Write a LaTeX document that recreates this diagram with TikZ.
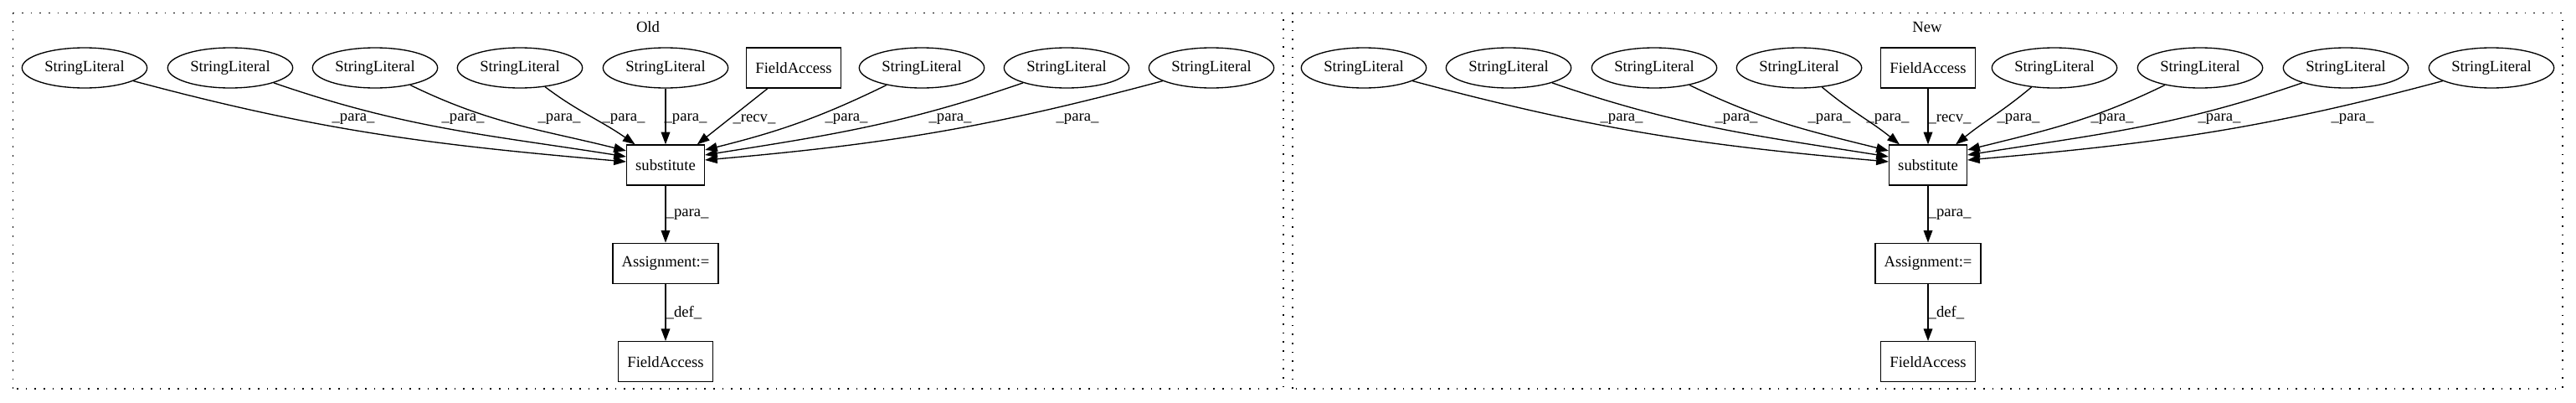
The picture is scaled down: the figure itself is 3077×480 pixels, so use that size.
\documentclass[tikz,border=0pt]{standalone}
\usepackage{fontspec}
\setmainfont{Liberation Serif}
\usetikzlibrary{shapes.geometric}
\usetikzlibrary{arrows.meta, positioning}

\begin{document}
\begin{tikzpicture}[x=0.75pt, y=0.75pt,
    every node/.style={font=\fontsize{14}{16}\selectfont},
    lit/.style={draw, ellipse, line width=1pt, inner sep=0pt, minimum width=112pt, minimum height=36pt},
    box/.style={draw, rectangle, line width=1pt, inner xsep=8pt, minimum height=36pt},
    lbl/.style={inner sep=0pt},
    flow/.style={line width=1pt, -{Triangle[length=11pt, width=8pt]}},
    cluster/.style={draw, line width=1pt, dash pattern=on 1.2pt off 6.8pt}]
    \useasboundingbox (0,0) rectangle (3077,480);
    \draw[cluster] (15.7,16) rectangle (1533,464.3);
    \draw[cluster] (1544,16) rectangle (3061,464.3);
    \node (old) at (774,448) {Old};
    \node (new) at (2302,448) {New};

    % Old
    \foreach \n/\x in {a1/101, a2/275, a3/448, a4/621, a5/795, a6/1101, a7/1274, a8/1447}
        \node[lit] (\n) at (\x,399) {StringLiteral};
    \node[box] (afa) at (948,399) {FieldAccess};
    \node[box] (asub) at (795,283) {substitute};
    \node[box, below=51pt of asub] (aasg) {Assignment:=};
    \node[box, below=51pt of aasg] (aout) {FieldAccess};

    \draw[flow] (a1) to[out=-15, in=175] ([yshift=3pt]asub.west);
    \draw[flow] (a2) to[out=-19, in=171] ([yshift=7.5pt]asub.west);
    \draw[flow] (a3) to[out=-26, in=166] ([yshift=12.75pt]asub.west);
    \draw[flow] (a4) to[out=-37, in=145] ([xshift=8pt]asub.north west);
    \draw[flow] (a5) -- (asub);
    \draw[flow] (afa) -- ([xshift=-7pt]asub.north east);
    \draw[flow] (a6) to[out=206, in=14] ([yshift=13.5pt]asub.east);
    \draw[flow] (a7) to[out=199, in=9] ([yshift=9pt]asub.east);
    \draw[flow] (a8) to[out=195, in=5] ([yshift=4.5pt]asub.east);
    \draw[flow] (asub) -- node[lbl, right] {\_para\_} (aasg);
    \draw[flow] (aasg) -- node[lbl, right] {\_def\_} (aout);
    \foreach \x [count=\i] in {422, 553, 668, 745, 819, 1011, 1135, 1287}
        \node[lbl] (pa\i) at (\x,338) {\_para\_};
    \node[lbl] (ra) at (901,338) {\_recv\_};

    % New
    \foreach \n/\x in {b1/1629, b2/1802, b3/1976, b4/2149, b5/2454, b6/2628, b7/2802, b8/2976}
        \node[lit] (\n) at (\x,399) {StringLiteral};
    \node[box] (bfa) at (2303,399) {FieldAccess};
    \node[box] (bsub) at (2303,283) {substitute};
    \node[box, below=51pt of bsub] (basg) {Assignment:=};
    \node[box, below=51pt of basg] (bout) {FieldAccess};

    \draw[flow] (b1) to[out=-15, in=175] ([yshift=3pt]bsub.west);
    \draw[flow] (b2) to[out=-19, in=171] ([yshift=7.5pt]bsub.west);
    \draw[flow] (b3) to[out=-26, in=166] ([yshift=12.75pt]bsub.west);
    \draw[flow] (b4) to[out=-40, in=141] ([xshift=9.75pt]bsub.north west);
    \draw[flow] (bfa) -- (bsub);
    \draw[flow] (b5) to[out=220, in=39] ([xshift=-10.5pt]bsub.north east);
    \draw[flow] (b6) to[out=206, in=14] ([yshift=13.5pt]bsub.east);
    \draw[flow] (b7) to[out=199, in=9] ([yshift=9pt]bsub.east);
    \draw[flow] (b8) to[out=195, in=5] ([yshift=4.5pt]bsub.east);
    \draw[flow] (bsub) -- node[lbl, right] {\_para\_} (basg);
    \draw[flow] (basg) -- node[lbl, right] {\_def\_} (bout);
    \foreach \x [count=\i] in {1937, 2074, 2185, 2255, 2411, 2523, 2651, 2810}
        \node[lbl] (pb\i) at (\x,338) {\_para\_};
    \node[lbl] (rb) at (2329,338) {\_recv\_};
\end{tikzpicture}
\end{document}
